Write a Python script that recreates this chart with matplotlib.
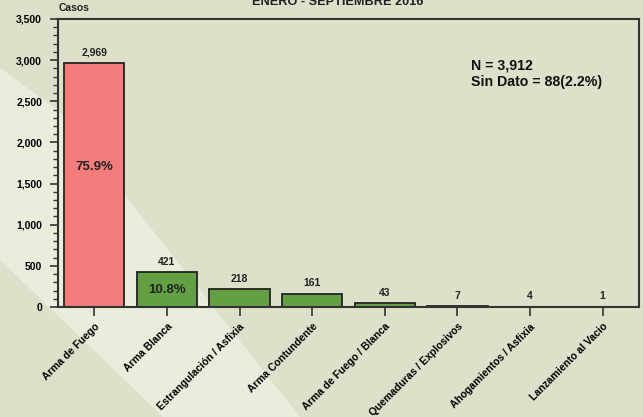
import matplotlib
matplotlib.use("Agg")
import matplotlib.pyplot as plt
from matplotlib.patches import Polygon
from matplotlib.ticker import MultipleLocator, FuncFormatter

plt.rcParams['font.family'] = ['Liberation Sans', 'DejaVu Sans']
plt.rcParams['font.weight'] = 'bold'

# datos
categorias = ["Arma de Fuego", "Arma Blanca", "Estrangulación / Asfixia",
              "Arma Contundente", "Arma de Fuego / Blanca",
              "Quemaduras / Explosivos", "Ahogamientos / Asfixia",
              "Lanzamiento al Vacio"]
casos = [2969, 421, 218, 161, 43, 7, 4, 1]
porcentajes = {0: "75.9%", 1: "10.8%"}
pct_y = {0: 1700, 1: 210}

W, H = 643, 417
fig = plt.figure(figsize=(W / 100, H / 100), dpi=100)
fig.patch.set_facecolor("#DFE0CA")

# fondo: franja clara diagonal (coordenadas en pixeles)
bg = fig.add_axes([0, 0, 1, 1], zorder=-1)
bg.set_xlim(0, W)
bg.set_ylim(H, 0)
bg.axis("off")
franja = [(0, 68), (58, 110), (300, 417), (163, 417), (0, 260)]
bg.add_patch(Polygon(franja, closed=True, facecolor="#EAECDC", edgecolor="none"))

ax = fig.add_axes([58 / W, 1 - 307 / H, (639 - 58) / W, (307 - 19) / H])
ax.patch.set_alpha(0)

colores = ["#F47C7C"] + ["#62A043"] * (len(casos) - 1)
x = range(len(casos))
ax.bar(x, casos, width=0.83, color=colores, edgecolor="#222222", linewidth=1.3, zorder=2)

for i, v in enumerate(casos):
    ax.annotate(f"{v:,}", (i, v), xytext=(0, 4), textcoords="offset points",
                ha="center", va="bottom", fontsize=7.5, fontweight="bold", color="#222222")
for i, t in porcentajes.items():
    ax.text(i, pct_y[i], t, ha="center", va="center", fontsize=9.5,
            fontweight="bold", color="#222222")

ax.set_xlim(-0.5, len(casos) - 0.5)
ax.set_ylim(0, 3500)
ax.yaxis.set_major_locator(MultipleLocator(500))
ax.yaxis.set_minor_locator(MultipleLocator(100))
ax.yaxis.set_major_formatter(FuncFormatter(lambda v, p: f"{int(v):,}"))
ax.set_xticks(list(x))
ax.set_xticklabels(categorias, rotation=45, ha="right", rotation_mode="anchor",
                   fontsize=7.5, fontweight="bold")
for lab in ax.get_yticklabels():
    lab.set_fontsize(7.5)
    lab.set_fontweight("bold")

ax.tick_params(axis="y", which="major", length=6, width=1.2, color="#333333", pad=5.5)
ax.tick_params(axis="y", which="minor", length=3.6, width=1, color="#333333")
ax.tick_params(axis="x", which="major", length=6.5, width=1.2, color="#333333", pad=4)
for s in ax.spines.values():
    s.set_linewidth(1.5)
    s.set_color("#333333")

ax.text(0.71, 0.84, "N = 3,912", transform=ax.transAxes, fontsize=10.2,
        fontweight="bold", color="#111111", va="center")
ax.text(0.71, 0.78, "Sin Dato = 88(2.2%)", transform=ax.transAxes, fontsize=10.2,
        fontweight="bold", color="#111111", va="center")

fig.text(74 / W, 1 - 8 / H, "Casos", fontsize=7.5, fontweight="bold",
         ha="center", va="center", color="#222222")
fig.text(338 / W, 1 - 2 / H, "ENERO - SEPTIEMBRE 2016", fontsize=9.2,
         fontweight="bold", ha="center", va="center", color="#222222")

fig.savefig("out.png", dpi=100, facecolor=fig.get_facecolor())
